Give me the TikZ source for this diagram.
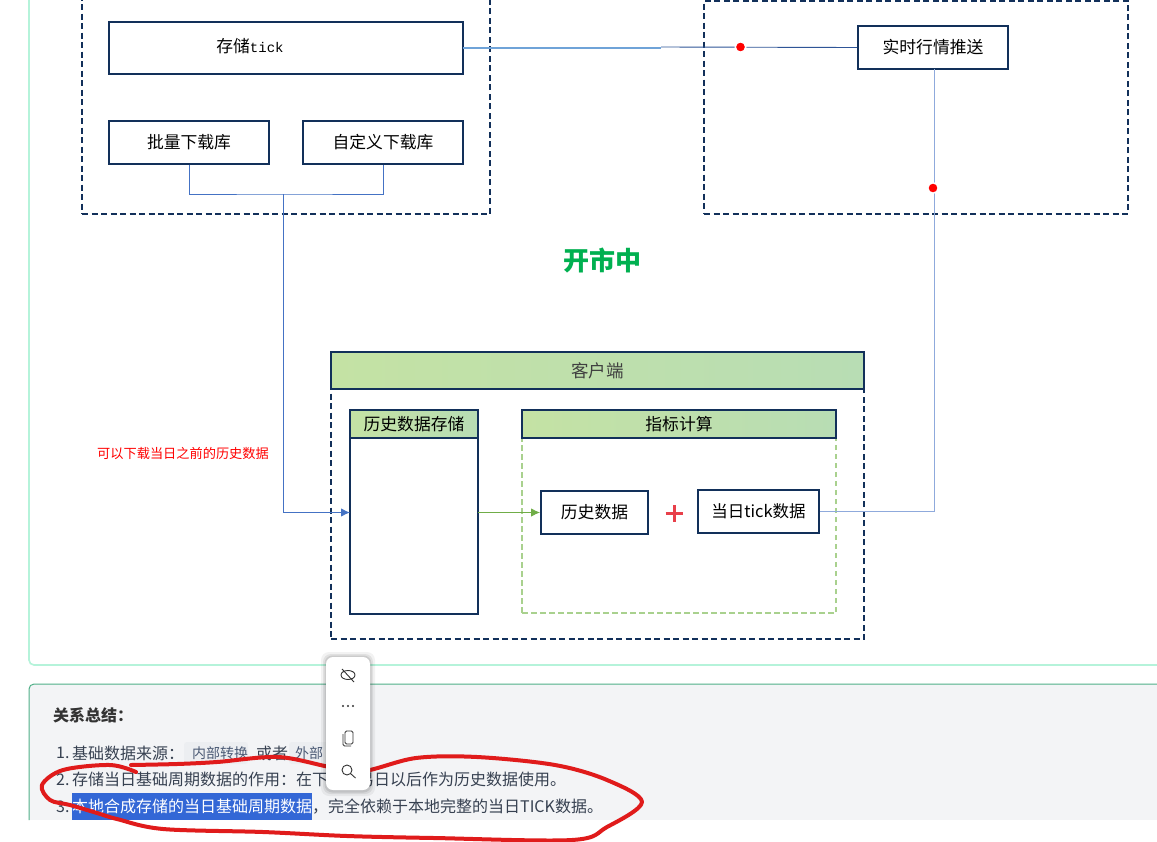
\documentclass[tikz,border=0pt]{standalone}
\usepackage{fontspec}
\setmainfont{Noto Sans CJK SC}
\newfontfamily\tickfont{Liberation Mono}
\usetikzlibrary{arrows.meta}
\definecolor{navy}{HTML}{12305A}
\definecolor{hdrA}{HTML}{C4E2A4}
\definecolor{hdrB}{HTML}{B8DDB4}
\definecolor{wire}{HTML}{4472C4}
\definecolor{wireD}{HTML}{2F5597}
\definecolor{wireS}{HTML}{6FA3D8}
\definecolor{wireL}{HTML}{8FAADC}
\definecolor{grn}{HTML}{70AD47}
\definecolor{grnL}{HTML}{A9D18E}
\definecolor{mint}{HTML}{B5F3DA}
\definecolor{panelLine}{HTML}{50B088}
\definecolor{panelFill}{HTML}{F3F4F6}
\definecolor{chip}{HTML}{ECEEF1}
\definecolor{chipText}{HTML}{4B5A75}
\definecolor{bodyText}{HTML}{374151}
\definecolor{sel}{HTML}{3367D6}
\definecolor{scrib}{HTML}{E01B1B}
\tikzset{
  x=1pt,y=-1pt,
  bx/.style={draw=navy,line width=1.9pt,fill=white,inner sep=0pt,font=\fontsize{16.8}{17}\selectfont,text=black,align=center},
  hdr/.style={bx,left color=hdrA,right color=hdrB},
  dashbox/.style={draw=navy,line width=2pt,inner sep=0pt,dash pattern=on 6pt off 3.5pt},
  grnbox/.style={draw=grnL,line width=1.4pt,inner sep=0pt,dash pattern=on 5.5pt off 3.5pt},
  wirea/.style={draw=wire,line width=1pt},
  wireb/.style={draw=wireL,line width=1.2pt},
  tip/.style={-{Latex[length=9pt,width=8.5pt]}},
  reddot/.style={circle,fill=red,draw=white,line width=1.5pt,minimum size=10.5pt,inner sep=0pt},
  txt/.style={anchor=west,inner sep=0pt,font=\fontsize{16}{16}\selectfont,text=bodyText},
  chiptxt/.style={anchor=west,inner sep=0pt,font=\fontsize{14}{14}\selectfont,text=chipText},
  chipbox/.style={fill=chip,rounded corners=3pt,inner sep=0pt},
  icon/.style={draw=black!80,line width=.9pt,fill=none},
}
\begin{document}
\begin{tikzpicture}
\useasboundingbox (0,0) rectangle (1157,841);
\clip (0,0) rectangle (1157,841);
\fill[white] (0,0) rectangle (1157,841);
% panels
\draw[draw=mint,line width=1.6pt,rounded corners=5pt] (29,-10) -- (29,665) -- (1175,665);
\fill[panelFill,rounded corners=5pt] (29,684) rectangle (1175,840);
\fill[white] (0,820) rectangle (1157,841);
\fill[white] (0,684) rectangle (28,841);
\draw[draw=panelLine,line width=1pt,rounded corners=5pt] (29,820) -- (29,684) -- (1175,684);
% left group
\node[dashbox,minimum width=408pt,minimum height=229pt] (leftgrp) at (286,99.5) {};
\node[bx,minimum width=354pt,minimum height=52pt] (store) at (286,48) {};
\node[inner sep=0pt,font=\fontsize{16.8}{17}\selectfont] (storetxt) at (250,46) {存储{\tickfont\fontsize{14}{14}\selectfont tick}};
\node[bx,minimum width=160pt,minimum height=43pt] (bulk) at (189,142.5) {批量下载库};
\node[bx,minimum width=160pt,minimum height=43pt] (custom) at (383,142.5) {自定义下载库};
% right group
\node[dashbox,minimum width=424pt,minimum height=213pt] (rightgrp) at (916,107) {};
\node[bx,minimum width=150pt,minimum height=43pt] (rt) at (933,47.5) {实时行情推送};
% title
\node[inner sep=0pt,text={rgb,255:red,0;green,176;blue,80},font=\fontsize{26}{26}\selectfont\bfseries] (open) at (602,261) {开市中};
% client
\node[dashbox,minimum width=533pt,minimum height=250pt] (clientbody) at (597.5,514) {};
\node[hdr,minimum width=533pt,minimum height=37pt,text=black!75,font=\fontsize{17.5}{18}\selectfont] (client) at (597.5,370.5) {客户端};
\node[bx,minimum width=128pt,minimum height=176pt] (hsbody) at (414,526) {};
\node[hdr,minimum width=128pt,minimum height=28pt] (hs) at (414,424) {历史数据存储};
\node[grnbox,minimum width=314pt,minimum height=175pt] (calcbody) at (679,525.5) {};
\node[hdr,minimum width=314pt,minimum height=28pt] (calc) at (679,424) {指标计算};
\node[bx,minimum width=107pt,minimum height=43pt] (hist) at (594.5,512.5) {历史数据};
\node[bx,minimum width=121pt,minimum height=43pt,font=\fontsize{16.5}{17}\selectfont] (tick) at (758.5,511.5) {当日tick数据};
\coordinate (plus) at (674,513);
\draw[draw={rgb,255:red,232;green,64;blue,74},line width=3pt] ([xshift=-8.5pt]plus) -- ([xshift=8.5pt]plus) ([yshift=-8.5pt]plus) -- ([yshift=8.5pt]plus);
\node[inner sep=0pt,text=red,font=\fontsize{13.2}{14}\selectfont] (note) at (183,453.5) {可以下载当日之前的历史数据};
% connectors
\coordinate (junction) at (283,194);
\coordinate (hsin) at (350,512.5);
\coordinate (hsout) at (478,512.5);
\coordinate (rtout) at (934.5,69);
\coordinate (storeout) at (463,48);
\coordinate (wirestep) at (661,48);
\coordinate (wirestepb) at (661,47);
\draw[wirea] (bulk.south) |- (junction) -| (custom.south);
\draw[wirea,tip] (junction) |- (hsin);
\draw[draw=grn,line width=1pt,tip] (hsout) -- (hist.west);
\draw[draw=wireS,line width=1.2pt] (storeout) -- (wirestep);
\draw[draw=wireD,line width=.9pt] (wirestepb) -- (rt.west);
\draw[wireb] (tick.east) -| (rtout);
\node[reddot] (dotA) at (740.5,47) {};
\node[reddot] (dotB) at (933,188) {};
% summary
\node[anchor=west,inner sep=0pt,font=\fontsize{16}{16}\selectfont\bfseries,text=black!80] (sumhead) at (53,715) {关系总结：};
\node[txt] (n1) at (56,753) {1.};
\node[txt] (l1a) at (72,753) {基础数据来源：};
\node[chipbox,minimum width=64pt,minimum height=22pt] (chipA) at (216,753) {};
\node[chiptxt] (chipAt) at (192,753) {内部转换};
\node[txt] (l1b) at (256,753) {或者};
\node[chipbox,minimum width=44pt,minimum height=22pt] (chipB) at (311,753) {};
\node[chiptxt] (chipBt) at (295,753) {外部};
\node[txt] (n2) at (56,779.5) {2.};
\node[txt] (l2a) at (72,779.5) {存储当日基础周期数据的作用：在下};
\node[txt] (l2b) at (358,779.5) {易日以后作为历史数据使用。};
\node[txt] (n3) at (56,806.5) {3.};
\node[fill=sel,minimum width=240pt,minimum height=27pt,inner sep=0pt] (selbox) at (192,806.5) {};
\node[txt,text=white] (l3a) at (72,806.5) {本地合成存储的当日基础周期数据};
\node[txt] (l3b) at (312,806.5) {，完全依赖于本地完整的当日TICK数据。};
% scribble
\draw[draw=scrib,line width=4pt,line cap=round,line join=round] plot[smooth,tension=.55] coordinates {(131,765) (177,764) (217,762) (278,757) (330,767) (364,771) (416,758) (477,757) (555,765) (607,780) (642,802) (607,827) (572,840) (434,838) (347,836) (263,832) (163,829) (117,819) (97,813) (70,805) (50,800) (42,785) (63,770) (110,765) (136,772)};
% floating toolbar
\foreach \s/\o in {5/.05,3/.07,1.5/.09}
  \fill[black,opacity=\o,rounded corners=8pt] (326-\s,657-\s) rectangle (370+\s,790+\s+1);
\node[fill=white,rounded corners=7pt,minimum width=44pt,minimum height=133pt,inner sep=0pt] (toolbar) at (348,723.5) {};
\coordinate (eye) at (348,675);
\draw[icon] (eye) ellipse (7pt and 4.5pt);
\draw[icon] ([xshift=-6pt,yshift=6pt]eye) -- ([xshift=6pt,yshift=-7pt]eye);
\coordinate (dots) at (348,706);
\foreach \d in {-5,0,5} \fill[black!80] ([xshift=\d pt]dots) circle (1.1pt);
\coordinate (copy) at (348,738);
\draw[icon,rounded corners=1.5pt] ([xshift=-3pt,yshift=7pt]copy) rectangle ([xshift=5pt,yshift=-6pt]copy);
\draw[icon,rounded corners=1.5pt] ([xshift=-5pt,yshift=4pt]copy) -- ([xshift=-5pt,yshift=-8pt]copy) -- ([xshift=3pt,yshift=-8pt]copy);
\coordinate (mag) at (347,770);
\draw[icon] (mag) circle (5pt);
\draw[icon] ([xshift=3.5pt,yshift=-3.5pt]mag) -- ([xshift=8.5pt,yshift=-8pt]mag);
\end{tikzpicture}
\end{document}
